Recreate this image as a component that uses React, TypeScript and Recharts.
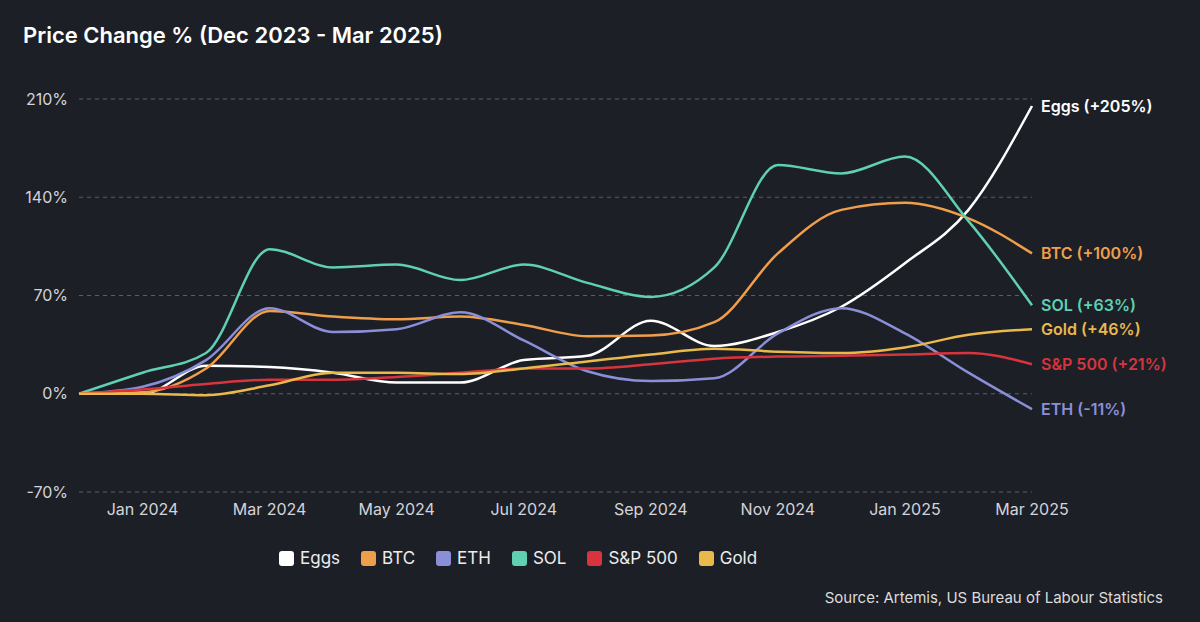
import React from 'react'
import {
  LineChart,
  Line,
  XAxis,
  YAxis,
  CartesianGrid,
  Legend,
} from 'recharts'

// 月份（Dec 2023 ~ Mar 2025）
const months = [
  'Dec 2023', 'Jan 2024', 'Feb 2024', 'Mar 2024', 'Apr 2024', 'May 2024',
  'Jun 2024', 'Jul 2024', 'Aug 2024', 'Sep 2024', 'Oct 2024', 'Nov 2024',
  'Dec 2024', 'Jan 2025', 'Feb 2025', 'Mar 2025',
]

// 各資產累計漲跌幅（%）
const eggs = [0, 0, 20, 19, 15, 8, 8, 24, 27, 52, 34, 44, 62, 93, 131, 205]
const btc = [0, 1, 18, 59, 55, 53, 55, 49, 41, 41.5, 51, 100, 131, 136, 125, 100]
const eth = [0, 5, 24, 61, 44, 46, 58, 38, 16, 9, 11, 43, 61, 43, 15, -11]
const sol = [0, 15, 29, 103, 90, 92, 81, 92, 79, 69, 90, 163, 157, 169, 123, 63]
const sp500 = [0, 3, 7, 10, 10, 12, 15, 18, 18, 21, 25, 26.5, 27, 28, 29, 21]
const gold = [0, 0, -1, 6, 15, 15, 14, 18, 23, 28, 32, 30, 29, 33, 42, 46]

const yTicks = [-70, 0, 70, 140, 210]

const SERIES = [
  { key: 'eggs', name: 'Eggs', values: eggs, color: '#ffffff', end: '+205%' },
  { key: 'btc', name: 'BTC', values: btc, color: '#ef9f4a', end: '+100%' },
  { key: 'eth', name: 'ETH', values: eth, color: '#8b8fd8', end: '-11%' },
  { key: 'sol', name: 'SOL', values: sol, color: '#5fd0b3', end: '+63%' },
  { key: 'sp', name: 'S&P 500', values: sp500, color: '#d8343d', end: '+21%' },
  { key: 'gold', name: 'Gold', values: gold, color: '#e9b94b', end: '+46%' },
]

const data = months.map((m, i) => {
  const row: Record<string, string | number> = { month: m }
  SERIES.forEach(s => { row[s.key] = s.values[i] })
  return row
})

const FONT = 'Inter, "Noto Sans", sans-serif'
const BG = '#1d1f27'

/** 只在最後一點畫出標籤 */
const endLabel = (name: string, end: string, color: string) => (props: any) => {
  const { x, y, index } = props
  if (index !== months.length - 1) return null
  return (
    <text
      x={x + 9}
      y={y}
      fill={color}
      fontSize={16}
      fontWeight={600}
      fontFamily={FONT}
      dominantBaseline="central"
    >
      {`${name} (${end})`}
    </text>
  )
}

const LegendContent = () => (
  <div style={{ display: 'flex', alignItems: 'center', fontFamily: FONT, fontSize: 17, color: '#ececec' }}>
    {SERIES.map(s => (
      <div key={s.key} style={{ display: 'flex', alignItems: 'center', marginRight: 21 }}>
        <span
          style={{
            width: 15,
            height: 15,
            borderRadius: 3,
            background: s.color,
            display: 'inline-block',
            marginRight: 6,
          }}
        />
        <span>{s.name}</span>
      </div>
    ))}
  </div>
)

export default function App() {
  return (
    <div
      style={{
        position: 'absolute',
        left: 0,
        top: 0,
        width: 1200,
        height: 622,
        background: BG,
        overflow: 'hidden',
        fontFamily: FONT,
      }}
    >
      <div
        style={{
          position: 'absolute',
          left: 23,
          top: 22,
          fontSize: 22,
          fontWeight: 600,
          color: '#ffffff',
        }}
      >
        Price Change % (Dec 2023 - Mar 2025)
      </div>

      <LineChart
        width={1200}
        height={622}
        data={data}
        margin={{ top: 99, right: 168, left: 19, bottom: 100 }}
      >
        <CartesianGrid vertical={false} stroke="#5a5e6a" strokeDasharray="4 4" />
        <XAxis
          dataKey="month"
          interval={0}
          tickFormatter={(v: string, i: number) => (i % 2 === 1 ? v : '')}
          tick={{ fontSize: 16, fill: '#d4d4d8', fontFamily: FONT }}
          tickLine={false}
          axisLine={false}
          tickMargin={6}
          height={30}
        />
        <YAxis
          domain={[-70, 210]}
          ticks={yTicks}
          tickFormatter={(v: number) => `${v}%`}
          tick={{ fontSize: 16, fill: '#d4d4d8', fontFamily: FONT }}
          tickLine={false}
          axisLine={false}
          tickMargin={5}
          width={60}
        />
        <Legend
          verticalAlign="middle"
          layout="horizontal"
          wrapperStyle={{ left: 279, top: 548, width: 560 }}
          content={() => <LegendContent />}
        />
        {SERIES.map(s => (
          <Line
            key={s.key}
            type="monotone"
            dataKey={s.key}
            name={s.name}
            stroke={s.color}
            strokeWidth={2.5}
            dot={false}
            activeDot={false}
            isAnimationActive={false}
            label={endLabel(s.name, s.end, s.color)}
          />
        ))}
      </LineChart>

      <div
        style={{
          position: 'absolute',
          right: 37,
          top: 588,
          fontSize: 15,
          color: '#dcdcdc',
        }}
      >
        Source: Artemis, US Bureau of Labour Statistics
      </div>
    </div>
  )
}
